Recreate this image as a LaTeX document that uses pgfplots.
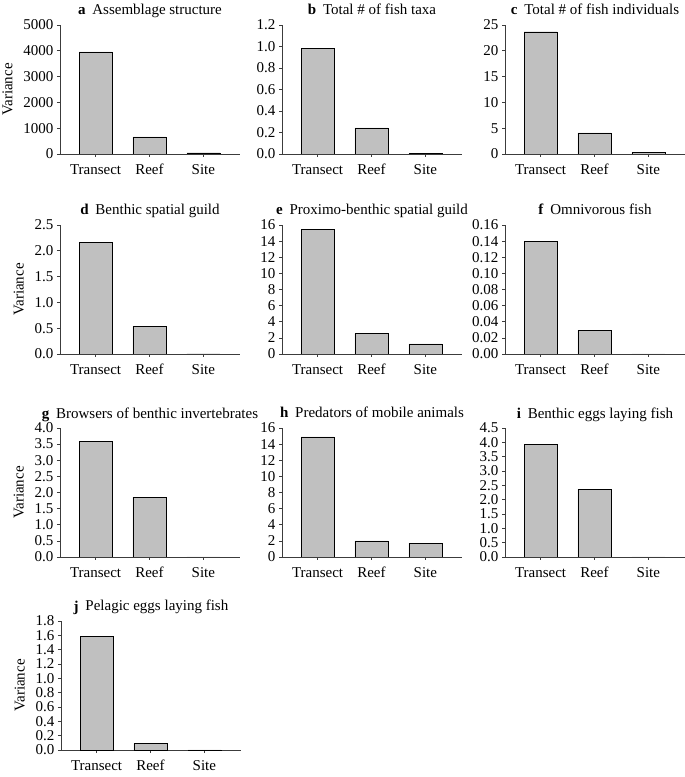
\documentclass[border=0pt]{standalone}
\usepackage{fontspec}
\setmainfont{Liberation Serif}
\usepackage{pgfplots}
\pgfplotsset{compat=1.18}
\definecolor{barfill}{RGB}{192,192,192}
\definecolor{bardraw}{RGB}{70,70,70}
\definecolor{axisc}{RGB}{60,60,60}
\newcommand{\pl}[1]{\textbf{#1}\hspace{0.45em}}
\pgfplotsset{
  every axis title shift=0pt,
  panel/.style={
    scale only axis, width=180pt, height=129pt, anchor=south west,
    axis x line=bottom, axis y line=left,
    axis line style={-, draw=axisc, line width=0.8pt},
    xmin=-0.66, xmax=2.68, ymin=0,
    xtick={0,1,2}, xticklabels={Transect,Reef,Site},
    tick style={draw=axisc, line width=0.6pt}, major tick length=3pt,
    tick align=outside,
    ticklabel style={font=\fontsize{15}{15}\selectfont},
    xticklabel style={anchor=north, yshift=-4pt, text height=10pt, text depth=3pt},
    /pgf/number format/assume math mode=true,
    /pgf/number format/1000 sep={},
    title style={font=\fontsize{15}{15}\selectfont, anchor=base, at={(0.5,1)}, yshift=10pt},
    label style={font=\fontsize{15}{15}\selectfont},
    ylabel shift=4pt,
    ybar, bar width=33pt,
    cycle list={{fill=barfill, draw=bardraw, line width=0.7pt}},
  },
  p1/.style={/pgf/number format/fixed, /pgf/number format/fixed zerofill, /pgf/number format/precision=1},
  p2/.style={/pgf/number format/fixed, /pgf/number format/fixed zerofill, /pgf/number format/precision=2},
}
\begin{document}
\begin{tikzpicture}
\useasboundingbox (0pt,0pt) rectangle (685pt,777pt);
% Row 1
\begin{axis}[panel, at={(60pt,623pt)}, ymax=5000, ytick={0,1000,2000,3000,4000,5000},
  ylabel={Variance}, title={\pl{a}Assemblage structure}]
\addplot coordinates {(0,3960) (1,660) (2,50)};
\end{axis}
\begin{axis}[panel, at={(282pt,623pt)}, ymax=1.2, ytick={0,0.2,0.4,0.6,0.8,1.0,1.2}, p1,
  title={\pl{b}Total \# of fish taxa}]
\addplot coordinates {(0,0.982) (1,0.242) (2,0.003)};
\end{axis}
\begin{axis}[panel, at={(505pt,623pt)}, ymax=25, ytick={0,5,10,15,20,25},
  title={\pl{c}Total \# of fish individuals}]
\addplot coordinates {(0,23.7) (1,4.09) (2,0.32)};
\end{axis}
% Row 2
\begin{axis}[panel, at={(60pt,423pt)}, ymax=2.5, ytick={0,0.5,1.0,1.5,2.0,2.5}, p1,
  ylabel={Variance}, title={\pl{d}Benthic spatial guild}]
\addplot coordinates {(0,2.17) (1,0.535) (2,0.005)};
\end{axis}
\begin{axis}[panel, at={(282pt,423pt)}, ymax=16, ytick={0,2,4,6,8,10,12,14,16},
  title={\pl{e}Proximo-benthic spatial guild}]
\addplot coordinates {(0,15.5) (1,2.53) (2,1.24)};
\end{axis}
\begin{axis}[panel, at={(505pt,423pt)}, ymax=0.16, ytick={0,0.02,0.04,0.06,0.08,0.10,0.12,0.14,0.16}, p2,
  title={\pl{f}Omnivorous fish}]
\addplot coordinates {(0,0.1397) (1,0.0294) (2,0.0003)};
\end{axis}
% Row 3
\begin{axis}[panel, at={(60pt,220pt)}, ymax=4.0, ytick={0,0.5,1.0,1.5,2.0,2.5,3.0,3.5,4.0}, p1,
  ylabel={Variance}, title={\pl{g}Browsers of benthic invertebrates}]
\addplot coordinates {(0,3.595) (1,1.86) (2,0.005)};
\end{axis}
\begin{axis}[panel, at={(282pt,220pt)}, ymax=16, ytick={0,2,4,6,8,10,12,14,16},
  title={\pl{h}Predators of mobile animals}]
\addplot coordinates {(0,14.9) (1,2.0) (2,1.71)};
\end{axis}
\begin{axis}[panel, at={(505pt,220pt)}, ymax=4.5, ytick={0,0.5,1.0,1.5,2.0,2.5,3.0,3.5,4.0,4.5}, p1,
  title={\pl{i}Benthic eggs laying fish}]
\addplot coordinates {(0,3.94) (1,2.37) (2,0.005)};
\end{axis}
% Row 4
\begin{axis}[panel, at={(61pt,27pt)}, ymax=1.8, ytick={0,0.2,0.4,0.6,0.8,1.0,1.2,1.4,1.6,1.8}, p1,
  ylabel={Variance}, title={\pl{j}Pelagic eggs laying fish}]
\addplot coordinates {(0,1.59) (1,0.089) (2,0.002)};
\end{axis}
\end{tikzpicture}
\end{document}
